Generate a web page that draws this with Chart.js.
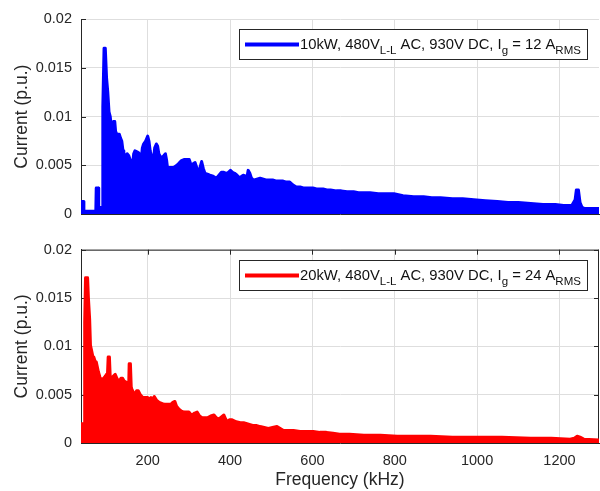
<!DOCTYPE html>
<html>
<head>
<meta charset="utf-8">
<script src="https://cdn.jsdelivr.net/npm/chart.js@4.4.0/dist/chart.umd.min.js"></script>
<style>
  body { margin: 0; background: #fff; }
  #wrap { position: relative; width: 600px; height: 491px; }
  canvas { position: absolute; left: 0; }
</style>
</head>
<body>
<div id="wrap">
  <canvas id="topChart" width="600" height="232" style="top:0"></canvas>
  <canvas id="bottomChart" width="600" height="259" style="top:232px"></canvas>
</div>
<script>
// axis ticks
const xTicks = [200, 400, 600, 800, 1000, 1200];
const yTicks = [0, 0.005, 0.01, 0.015, 0.02];
const yTickLabels = ['0', '0.005', '0.01', '0.015', '0.02'];

// 10 kW spectrum envelope (kHz, p.u.)
const topLabel = '10kW, 480V_{L-L} AC, 930V DC, I_{g} = 12 A_{RMS}';
const topFreq = [38, 44, 45, 74, 75, 80, 81, 89, 91, 94, 97, 100, 103, 106, 109, 112, 114, 117, 120, 122,
  125, 128, 131, 134, 137, 140, 142, 146, 150, 154, 158, 163, 166, 169, 174, 178, 182, 184, 187, 190,
  195, 200, 203, 206, 210, 213, 217, 221, 224, 227, 231, 235, 239, 243, 246, 248, 255, 263, 270, 275,
  282, 288, 295, 301, 304, 307, 311, 315, 319, 323, 327, 331, 335, 339, 345, 351, 359, 367, 373, 379,
  385, 391, 396, 401, 406, 411, 417, 424, 428, 432, 438, 441, 444, 448, 452, 457, 465, 473, 481, 489,
  497, 505, 513, 521, 529, 537, 545, 553, 561, 570, 578, 585, 593, 601, 610, 618, 626, 635, 644, 658,
  670, 684, 700, 712, 725, 740, 760, 780, 798, 820, 846, 870, 890, 911, 940, 965, 992, 1020, 1049, 1075,
  1100, 1130, 1160, 1190, 1210, 1230, 1238, 1241, 1246, 1250, 1255, 1260, 1296];
const topCurrent = [0.0013, 0.0013, 0.0003, 0.0003, 0.0027, 0.0027, 0.0007, 0.0007, 0.011, 0.017, 0.017, 0.014, 0.0125, 0.0105, 0.010, 0.0088, 0.0087, 0.0095, 0.0095, 0.0085,
  0.0082, 0.0082, 0.0082, 0.0078, 0.0075, 0.0065, 0.0057, 0.006, 0.0062, 0.006, 0.0055, 0.005, 0.0062, 0.0065, 0.0064, 0.0063, 0.006, 0.0055, 0.0068, 0.0072,
  0.0075, 0.008, 0.0075, 0.0065, 0.0058, 0.0052, 0.0068, 0.0072, 0.007, 0.0062, 0.0059, 0.0058, 0.006, 0.0062, 0.0055, 0.0048, 0.0048, 0.0048, 0.005, 0.0052,
  0.0055, 0.0056, 0.0056, 0.0056, 0.0052, 0.0048, 0.0052, 0.0053, 0.0048, 0.0043, 0.0048, 0.0054, 0.0047, 0.0042, 0.0041, 0.004, 0.0039, 0.0037, 0.004, 0.0043,
  0.0043, 0.0042, 0.0043, 0.0045, 0.0043, 0.0042, 0.004, 0.0037, 0.0039, 0.004, 0.0039, 0.0038, 0.0045, 0.0042, 0.0037, 0.0035, 0.0036, 0.0037, 0.0036, 0.0035,
  0.0035, 0.0035, 0.0034, 0.0034, 0.0034, 0.0033, 0.0033, 0.003, 0.0028, 0.0028, 0.0027, 0.0027, 0.0027, 0.0027, 0.0026, 0.0026, 0.0026, 0.0025, 0.0025, 0.0024,
  0.0024, 0.0023, 0.0023, 0.0022, 0.0022, 0.0022, 0.0021, 0.0021, 0.0021, 0.0019, 0.0018, 0.0018, 0.0017, 0.0017, 0.0016, 0.0016, 0.0015, 0.0014, 0.0013, 0.0012,
  0.0012, 0.0011, 0.001, 0.001, 0.0009, 0.0009, 0.0015, 0.0025, 0.0025, 0.0012, 0.0007, 0.0006, 0.0006];

// 20 kW spectrum envelope
const bottomLabel = '20kW, 480V_{L-L} AC, 930V DC, I_{g} = 24 A_{RMS}';
const bottomFreq = [38, 45, 46, 47, 49, 54, 56, 59, 61, 64, 67, 69, 72, 75, 78, 80, 84, 87, 90, 93,
  97, 100, 102, 104, 107, 109, 111, 116, 121, 126, 131, 135, 139, 143, 147, 151, 154, 155, 158, 160,
  162, 166, 169, 173, 177, 182, 188, 194, 200, 204, 208, 212, 216, 222, 228, 234, 240, 248, 256, 261,
  266, 270, 276, 282, 288, 294, 300, 304, 308, 314, 320, 326, 333, 339, 345, 353, 361, 367, 373, 379,
  385, 389, 393, 399, 405, 415, 425, 433, 441, 449, 457, 465, 473, 483, 493, 503, 514, 522, 530, 542,
  554, 570, 586, 602, 618, 634, 650, 666, 690, 725, 765, 806, 850, 887, 940, 1000, 1060, 1130, 1180, 1226,
  1236, 1243, 1250, 1259, 1296];
const bottomCurrent = [0.002, 0.002, 0.0005, 0.0125, 0.0171, 0.0171, 0.015, 0.0128, 0.0101, 0.0095, 0.0089, 0.0089, 0.0085, 0.0084, 0.0078, 0.0074, 0.0068, 0.0066, 0.0066, 0.0067,
  0.0069, 0.0071, 0.0068, 0.0089, 0.0089, 0.0068, 0.0067, 0.0069, 0.0071, 0.0066, 0.0064, 0.0067, 0.0067, 0.0064, 0.0063, 0.0062, 0.0062, 0.0082, 0.0082, 0.0058,
  0.0055, 0.0052, 0.005, 0.0054, 0.0054, 0.005, 0.0047, 0.0047, 0.0047, 0.0045, 0.0047, 0.0045, 0.0048, 0.0044, 0.0042, 0.0041, 0.004, 0.004, 0.004, 0.0042,
  0.0043, 0.0038, 0.0035, 0.0033, 0.0032, 0.0032, 0.0032, 0.003, 0.0029, 0.0031, 0.0032, 0.0028, 0.0026, 0.0026, 0.0026, 0.0028, 0.0029, 0.0026, 0.0025, 0.0027,
  0.0029, 0.0025, 0.0022, 0.0024, 0.0024, 0.0022, 0.0021, 0.0021, 0.002, 0.0019, 0.0018, 0.0018, 0.0017, 0.0016, 0.0015, 0.0016, 0.0017, 0.0015, 0.0013, 0.0013,
  0.0013, 0.0012, 0.0012, 0.0012, 0.0011, 0.0011, 0.001, 0.0009, 0.0009, 0.0008, 0.0008, 0.0007, 0.0007, 0.0007, 0.0006, 0.0006, 0.0006, 0.0005, 0.0005, 0.0004,
  0.0005, 0.0007, 0.0006, 0.0004, 0.0003];

const FONT = 'Arial, "Liberation Sans", Helvetica, sans-serif';
const AXIS = '#262626';
const GRID = '#dedede';

// text with _{...} subscripts
function richText(ctx, text, x, y, draw) {
  const parts = [];
  const re = /_\{([^}]*)\}/g;
  let last = 0, m;
  while ((m = re.exec(text))) {
    if (m.index > last) parts.push([text.slice(last, m.index), false]);
    parts.push([m[1], true]);
    last = re.lastIndex;
  }
  if (last < text.length) parts.push([text.slice(last), false]);
  let cx = x;
  for (const [s, sub] of parts) {
    ctx.font = (sub ? '11.5px ' : '14.8px ') + FONT;
    if (draw) ctx.fillText(s, cx, sub ? y + 5 : y);
    cx += ctx.measureText(s).width;
  }
  return cx - x;
}

const specLegend = {
  id: 'specLegend',
  afterDraw(chart, args, opts) {
    const ctx = chart.ctx, a = chart.chartArea;
    ctx.save();
    const tw = richText(ctx, opts.text, 0, 0, false);
    const w = Math.round(61 + tw + 6), h = 30;
    const x0 = Math.round(a.right - 12 - w), y0 = Math.round(a.top + 10);
    ctx.fillStyle = '#fff';
    ctx.fillRect(x0, y0, w, h);
    ctx.strokeStyle = AXIS;
    ctx.lineWidth = 1;
    ctx.strokeRect(x0 + 0.5, y0 + 0.5, w, h);
    ctx.strokeStyle = opts.color;
    ctx.lineWidth = 4;
    ctx.beginPath();
    ctx.moveTo(x0 + 6, y0 + 15.5);
    ctx.lineTo(x0 + 60, y0 + 15.5);
    ctx.stroke();
    ctx.fillStyle = '#111';
    ctx.textBaseline = 'alphabetic';
    richText(ctx, opts.text, x0 + 61, y0 + 20, true);
    ctx.restore();
  }
};

// inward tick marks and optional full box, like the matlab axes
const axesFrame = {
  id: 'axesFrame',
  beforeDatasetsDraw(chart, args, opts) {
    const ctx = chart.ctx, a = chart.chartArea;
    const xs = chart.scales.x, ys = chart.scales.y;
    ctx.save();
    ctx.strokeStyle = AXIS;
    ctx.lineWidth = 1;
    ctx.beginPath();
    if (opts.box) {
      ctx.moveTo(a.left, a.top + 0.5); ctx.lineTo(a.right, a.top + 0.5);
      ctx.moveTo(a.right - 0.5, a.top); ctx.lineTo(a.right - 0.5, a.bottom);
    }
    ys.ticks.forEach(t => {
      const p = Math.round(ys.getPixelForValue(t.value)) + 0.5;
      ctx.moveTo(a.left, p); ctx.lineTo(a.left + 5, p);
      if (opts.box) { ctx.moveTo(a.right, p); ctx.lineTo(a.right - 5, p); }
    });
    xs.ticks.forEach(t => {
      const p = Math.round(xs.getPixelForValue(t.value)) + 0.5;
      ctx.moveTo(p, a.bottom); ctx.lineTo(p, a.bottom - 5);
      if (opts.box) { ctx.moveTo(p, a.top); ctx.lineTo(p, a.top + 5); }
    });
    ctx.stroke();
    ctx.restore();
  }
};

function makeChart(id, freq, current, color, label, withXLabels, padTop, padBottom) {
  return new Chart(document.getElementById(id), {
    type: 'line',
    plugins: [axesFrame, specLegend],
    data: {
      datasets: [{
        label: label,
        data: freq.map((f, i) => ({ x: f, y: current[i] })),
        borderColor: color,
        backgroundColor: color,
        borderWidth: 3,
        borderJoinStyle: 'round',
        borderCapStyle: 'round',
        pointRadius: 0,
        tension: 0,
        fill: 'origin'
      }]
    },
    options: {
      responsive: false,
      animation: false,
      devicePixelRatio: 1,
      layout: { padding: { top: padTop, bottom: padBottom, left: 0, right: 1 } },
      plugins: {
        legend: { display: false },
        tooltip: { enabled: false },
        specLegend: { text: label, color: color },
        axesFrame: { box: withXLabels }
      },
      scales: {
        x: {
          type: 'linear',
          min: 38,
          max: 1296,
          afterBuildTicks: s => { s.ticks = xTicks.map(v => ({ value: v })); },
          afterFit: s => { s.height = withXLabels ? 48 : 0; },
          grid: { color: GRID, drawTicks: false },
          border: { color: AXIS },
          ticks: {
            display: withXLabels,
            padding: 9,
            color: AXIS,
            font: { family: FONT, size: 14.5 },
            maxRotation: 0,
            callback: v => String(v)
          },
          title: {
            display: withXLabels,
            text: 'Frequency (kHz)',
            color: AXIS,
            font: { family: FONT, size: 17.5 },
            padding: { top: 0, bottom: 0 }
          }
        },
        y: {
          min: 0,
          max: 0.02,
          afterBuildTicks: s => { s.ticks = yTicks.map(v => ({ value: v })); },
          afterFit: s => { s.width = 81; },
          grid: { color: GRID, drawTicks: false },
          border: { color: AXIS },
          ticks: {
            padding: 9,
            color: AXIS,
            font: { family: FONT, size: 14.5 },
            callback: (v, i) => yTickLabels[i]
          },
          title: {
            display: true,
            text: 'Current (p.u.)',
            color: AXIS,
            font: { family: FONT, size: 17.5 },
            padding: { top: 11.5, bottom: 0 }
          }
        }
      }
    }
  });
}

makeChart('topChart', topFreq, topCurrent, '#0000ff', topLabel, false, 19, 13.7);
makeChart('bottomChart', bottomFreq, bottomCurrent, '#ff0000', bottomLabel, true, 13, 0);
</script>
</body>
</html>
